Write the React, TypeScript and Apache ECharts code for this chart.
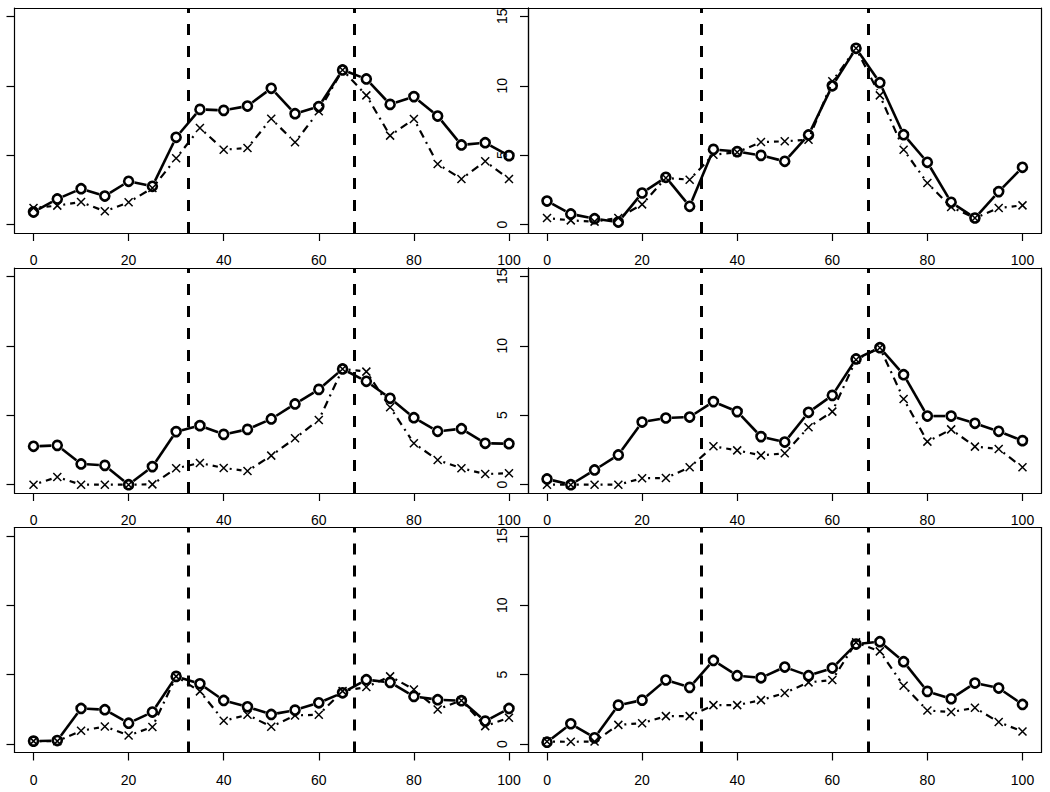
import { useEffect, useRef } from "react";
import * as echarts from "echarts";

const X_VALUES = [0, 5, 10, 15, 20, 25, 30, 35, 40, 45, 50, 55, 60, 65, 70, 75, 80, 85, 90, 95, 100];
const X_TICKS = [0, 20, 40, 60, 80, 100];
const Y_TICKS = [0, 5, 10, 15];
const BOUNDARIES = [32.5, 67.5];

const P1_CIRCLE = [0.91, 1.85, 2.59, 2.06, 3.12, 2.76, 6.29, 8.3, 8.23, 8.54, 9.82, 7.99, 8.5, 11.14, 10.49, 8.66, 9.22, 7.82, 5.74, 5.9, 4.97];
const P1_CROSS = [1.2, 1.37, 1.63, 0.96, 1.61, 2.64, 4.78, 6.96, 5.4, 5.52, 7.63, 5.93, 8.16, 11.14, 9.31, 6.41, 7.61, 4.37, 3.29, 4.56, 3.29];

const P2_CIRCLE = [1.7, 0.77, 0.43, 0.19, 2.28, 3.41, 1.32, 5.42, 5.26, 4.99, 4.56, 6.46, 10.0, 12.7, 10.22, 6.48, 4.49, 1.61, 0.48, 2.38, 4.13];
const P2_CROSS = [0.48, 0.31, 0.22, 0.48, 1.46, 3.36, 3.24, 5.04, 5.21, 5.95, 6.0, 6.12, 10.32, 12.7, 9.31, 5.4, 3.0, 1.27, 0.48, 1.2, 1.39];

const P3_CIRCLE = [2.76, 2.83, 1.49, 1.39, 0, 1.3, 3.82, 4.25, 3.62, 3.98, 4.73, 5.81, 6.86, 8.33, 7.44, 6.22, 4.82, 3.84, 4.03, 2.98, 2.95];
const P3_CROSS = [0, 0.55, 0, 0, 0, 0.02, 1.18, 1.56, 1.2, 0.98, 2.09, 3.34, 4.66, 8.33, 8.14, 5.57, 2.98, 1.78, 1.18, 0.77, 0.82];

const P4_CIRCLE = [0.41, 0, 1.06, 2.14, 4.51, 4.8, 4.87, 5.98, 5.26, 3.46, 3.07, 5.21, 6.43, 9.05, 9.86, 7.92, 4.94, 4.94, 4.42, 3.84, 3.17];
const P4_CROSS = [0, 0, 0, 0, 0.46, 0.48, 1.25, 2.76, 2.47, 2.11, 2.26, 4.13, 5.26, 9.0, 9.86, 6.17, 3.1, 3.98, 2.74, 2.57, 1.25];

const P5_CIRCLE = [0.22, 0.26, 2.57, 2.48, 1.51, 2.31, 4.88, 4.35, 3.15, 2.69, 2.14, 2.45, 2.98, 3.7, 4.64, 4.45, 3.44, 3.2, 3.13, 1.66, 2.57];
const P5_CROSS = [0.22, 0.22, 0.96, 1.27, 0.63, 1.23, 4.88, 3.8, 1.68, 2.12, 1.25, 2.07, 2.12, 3.82, 4.11, 4.88, 3.94, 2.5, 3.15, 1.3, 1.9];

const P6_CIRCLE = [0.14, 1.47, 0.46, 2.81, 3.17, 4.62, 4.09, 6.03, 4.93, 4.78, 5.55, 4.93, 5.48, 7.21, 7.38, 5.94, 3.8, 3.27, 4.4, 4.04, 2.86];
const P6_CROSS = [0.19, 0.17, 0.19, 1.39, 1.51, 2.02, 2.02, 2.81, 2.81, 3.17, 3.68, 4.45, 4.62, 7.33, 6.68, 4.21, 2.43, 2.31, 2.62, 1.59, 0.91];

const PANELS = [
  { circle: P1_CIRCLE, cross: P1_CROSS },
  { circle: P2_CIRCLE, cross: P2_CROSS },
  { circle: P3_CIRCLE, cross: P3_CROSS },
  { circle: P4_CIRCLE, cross: P4_CROSS },
  { circle: P5_CIRCLE, cross: P5_CROSS },
  { circle: P6_CIRCLE, cross: P6_CROSS },
];

const FONT = "'Liberation Sans', Arial, Helvetica, sans-serif";
const COL_LEFT = [14.5, 528];
const COL_WIDTH = 513.5;
const ROW_TOP = [8, 268, 527.5];
const ROW_HEIGHT = 225;
const GAP = 6;
const CROSS_PATH = "path://M0,0L10,10M0,10L10,0";
const BORDER = { show: true, onZero: false, lineStyle: { color: "#000", width: 1.2 } };

function segments(ys: number[]) {
  const out: number[][] = [];
  for (let i = 0; i < ys.length - 1; i++) {
    out.push([X_VALUES[i], ys[i], X_VALUES[i + 1], ys[i + 1]]);
  }
  return out;
}

function segmentRenderer(lineWidth: number, lineDash: number[] | null) {
  return (_params: any, api: any) => {
    const p0 = api.coord([api.value(0), api.value(1)]);
    const p1 = api.coord([api.value(2), api.value(3)]);
    const dx = p1[0] - p0[0];
    const dy = p1[1] - p0[1];
    const len = Math.sqrt(dx * dx + dy * dy);
    if (len <= 2 * GAP) return null;
    const ux = dx / len;
    const uy = dy / len;
    return {
      type: "line",
      shape: {
        x1: p0[0] + ux * GAP,
        y1: p0[1] + uy * GAP,
        x2: p1[0] - ux * GAP,
        y2: p1[1] - uy * GAP,
      },
      style: {
        stroke: "#000",
        lineWidth,
        lineDash: lineDash || undefined,
        lineCap: "butt",
      },
    };
  };
}

export default function App() {
  const ref = useRef<HTMLDivElement>(null);

  useEffect(() => {
    document.body.style.margin = "0";
    if (!ref.current) return;
    const chart = echarts.init(ref.current, undefined, { renderer: "svg" });

    const grids: any[] = [];
    const xAxes: any[] = [];
    const yAxes: any[] = [];
    const series: any[] = [];

    PANELS.forEach((panel, i) => {
      const row = Math.floor(i / 2);
      const col = i % 2;
      const xi = 2 * i;
      grids.push({
        left: COL_LEFT[col],
        top: ROW_TOP[row],
        width: COL_WIDTH,
        height: ROW_HEIGHT,
        show: false,
        containLabel: false,
      });
      xAxes.push({
        type: "value",
        gridIndex: i,
        position: "bottom",
        min: -4,
        max: 104,
        axisLine: BORDER,
        splitLine: { show: false },
        axisTick: {
          show: true,
          inside: false,
          length: 8,
          customValues: X_TICKS,
          lineStyle: { color: "#000", width: 1.2 },
        },
        axisLabel: {
          show: true,
          customValues: X_TICKS,
          margin: 20,
          fontSize: 14,
          color: "#000",
          fontFamily: FONT,
        },
      });
      xAxes.push({
        type: "value",
        gridIndex: i,
        position: "top",
        min: -4,
        max: 104,
        axisLine: BORDER,
        splitLine: { show: false },
        axisTick: { show: false },
        axisLabel: { show: false },
      });
      yAxes.push({
        type: "value",
        gridIndex: i,
        position: "left",
        min: -0.6,
        max: 15.6,
        axisLine: BORDER,
        splitLine: { show: false },
        axisTick: {
          show: true,
          inside: false,
          length: 8,
          customValues: Y_TICKS,
          lineStyle: { color: "#000", width: 1.2 },
        },
        axisLabel: {
          show: col === 1,
          customValues: Y_TICKS,
          rotate: 90,
          margin: 19,
          fontSize: 14,
          color: "#000",
          fontFamily: FONT,
        },
      });
      yAxes.push({
        type: "value",
        gridIndex: i,
        position: "right",
        min: -0.6,
        max: 15.6,
        axisLine: BORDER,
        splitLine: { show: false },
        axisTick: { show: false },
        axisLabel: { show: false },
      });

      series.push({
        type: "custom",
        name: `p${i + 1}-cross-lines`,
        xAxisIndex: xi,
        yAxisIndex: xi,
        coordinateSystem: "cartesian2d",
        encode: { x: [0, 2], y: [1, 3] },
        data: segments(panel.cross),
        renderItem: segmentRenderer(2.2, [2, 5, 8, 5]),
        silent: true,
        z: 2,
      });
      series.push({
        type: "custom",
        name: `p${i + 1}-circle-lines`,
        xAxisIndex: xi,
        yAxisIndex: xi,
        coordinateSystem: "cartesian2d",
        encode: { x: [0, 2], y: [1, 3] },
        data: segments(panel.circle),
        renderItem: segmentRenderer(2.6, null),
        silent: true,
        z: 2,
      });
      series.push({
        type: "scatter",
        name: `p${i + 1}-circle`,
        xAxisIndex: xi,
        yAxisIndex: xi,
        data: X_VALUES.map((x, j) => [x, panel.circle[j]]),
        symbol: "circle",
        symbolSize: 9,
        itemStyle: { color: "rgba(0,0,0,0)", borderColor: "#000", borderWidth: 2.6, opacity: 1 },
        silent: true,
        z: 3,
        markLine: {
          silent: true,
          symbol: ["none", "none"],
          label: { show: false },
          lineStyle: { color: "#000", width: 3, type: [11, 11] },
          data: BOUNDARIES.map((b) => ({ xAxis: b })),
          z: 4,
        },
      });
      series.push({
        type: "scatter",
        name: `p${i + 1}-cross`,
        xAxisIndex: xi,
        yAxisIndex: xi,
        data: X_VALUES.map((x, j) => [x, panel.cross[j]]),
        symbol: CROSS_PATH,
        symbolSize: 8,
        itemStyle: { color: "none", borderColor: "#000", borderWidth: 1.5, opacity: 1 },
        silent: true,
        z: 3,
      });
    });

    chart.setOption({
      animation: false,
      backgroundColor: "#fff",
      textStyle: { fontFamily: FONT },
      grid: grids,
      xAxis: xAxes,
      yAxis: yAxes,
      series,
    });

    return () => {
      chart.dispose();
    };
  }, []);

  return (
    <div
      ref={ref}
      style={{ position: "absolute", left: 0, top: 0, width: 1050, height: 792 }}
    />
  );
}
